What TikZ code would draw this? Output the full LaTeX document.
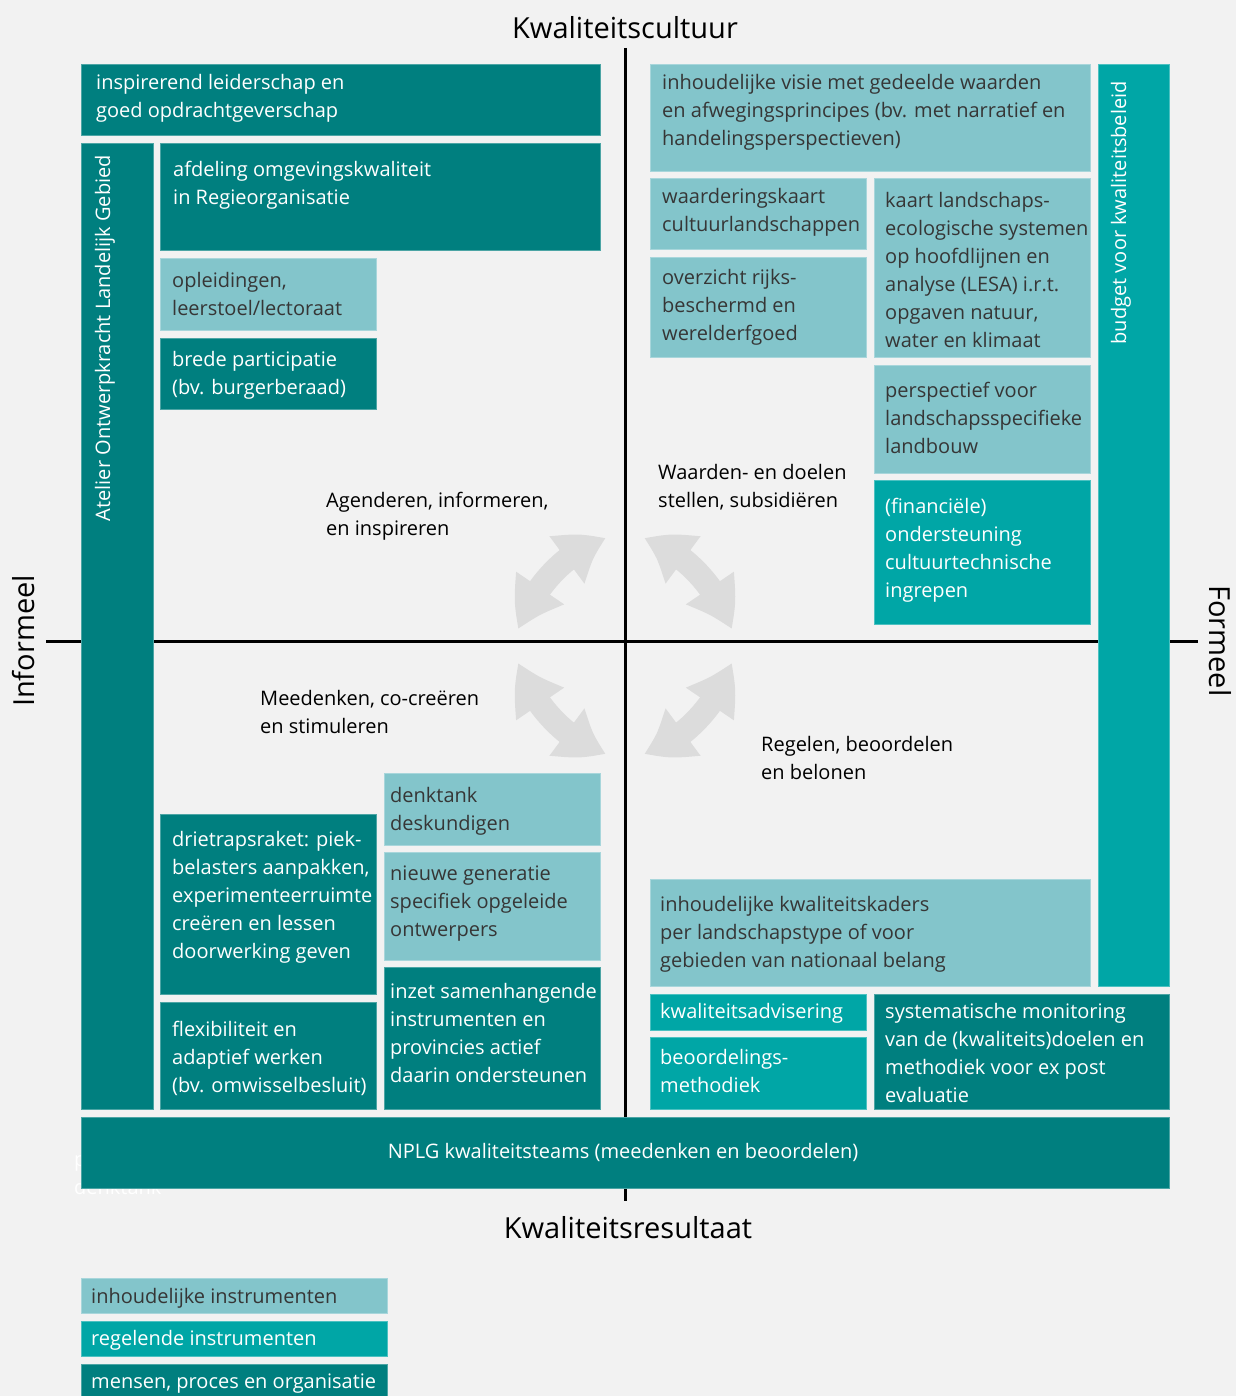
\documentclass[tikz,border=0pt]{standalone}
\usepackage{fontspec}
\setmainfont{Open Sans}
\usetikzlibrary{arrows.meta,bending}
\definecolor{bg}{HTML}{F2F2F2}
\definecolor{tdark}{HTML}{007F7F}
\definecolor{tmid}{HTML}{00A6A6}
\definecolor{tlight}{HTML}{83C5CB}
\definecolor{agray}{HTML}{DCDCDC}
\definecolor{dtext}{HTML}{363636}
\tikzset{
 box/.style={anchor=north west, inner sep=0pt, outer sep=0pt, line width=0.8pt},
 darkbox/.style={box, fill=tdark, draw=tdark!70!white},
 midbox/.style={box, fill=tmid, draw=tmid!70!white},
 lightbox/.style={box, fill=tlight, draw=tlight!70!white},
 txt/.style={anchor=north west, inner sep=0pt, align=left, font=\fontsize{20}{28}\selectfont},
 wtxt/.style={txt, text=white},
 ktxt/.style={txt, text=dtext},
 lbl/.style={txt, text=black},
 axisline/.style={line width=3pt, black},
 bigarrow/.style={line width=24pt, agray, {Triangle[width=56pt,length=44pt,bend]}-{Triangle[width=56pt,length=44pt,bend]}},
 ttl/.style={font=\fontsize{29}{34}\selectfont, text=black, inner sep=0pt},
}
\newcommand\bx[6]{\node[#2, minimum width=#5pt, minimum height=#6pt] (#1) at (#3,#4) {};}
% \bt{name}{style}{xshift}{yshift}{text}
\newcommand\bt[5]{\node[#2] (#1-t) at ([xshift=#3pt,yshift=-#4pt]#1.north west) {#5};}
\begin{document}
\begin{tikzpicture}[x=1pt,y=-1pt]
\useasboundingbox (0,0) rectangle (1236,1396);
\fill[bg] (0,0) rectangle (1236,1396);

% axes
\coordinate (vt) at (625,48);
\coordinate (vb) at (625,1201);
\coordinate (hl) at (46,641);
\coordinate (hr) at (1198,641);
\draw[axisline] (vt) -- (vb);
\draw[axisline] (hl) -- (hr);

\node[ttl] (top) at (625,28) {Kwaliteitscultuur};
\node[ttl] (bottom) at (628,1228) {Kwaliteitsresultaat};
\node[ttl, rotate=90] (left) at (24,641) {Informeel};
\node[ttl, rotate=-90] (right) at (1220,641) {Formeel};

% ghost text behind the bottom bar
\node[wtxt, anchor=north west] (ghost) at (74,1155) {p\\denktank};

% upper left
\bx{b1}{darkbox}{81}{64}{519}{71}
\bt{b1}{wtxt}{15}{10}{inspirerend leiderschap en\\goed opdrachtgeverschap}
\bx{atelier}{darkbox}{81}{143}{72}{966}
\node[wtxt, rotate=90, anchor=east, align=center] (atelier-t) at (105,155) {Atelier Ontwerpkracht Landelijk Gebied};
\bx{b3}{darkbox}{160}{143}{440}{107}
\bt{b3}{wtxt}{13}{18}{afdeling omgevingskwaliteit\\in Regieorganisatie}
\bx{b4}{lightbox}{160}{258}{216}{72}
\bt{b4}{ktxt}{12}{14}{opleidingen,\\leerstoel/lectoraat}
\bx{b5}{darkbox}{160}{338}{216}{71}
\bt{b5}{wtxt}{12}{13}{brede participatie\\(bv. burgerberaad)}

% upper right
\bx{b6}{lightbox}{650}{64}{440}{107}
\bt{b6}{ktxt}{12}{10}{inhoudelijke visie met gedeelde waarden\\en afwegingsprincipes (bv. met narratief en\\handelingsperspectieven)}
\bx{budget}{midbox}{1098}{64}{71}{922}
\node[wtxt, rotate=90, anchor=east, align=center] (budget-t) at (1121,81) {budget voor kwaliteitsbeleid};
\bx{b8}{lightbox}{650}{178}{216}{71}
\bt{b8}{ktxt}{12}{10}{waarderingskaart\\cultuurlandschappen}
\bx{b9}{lightbox}{874}{178}{216}{179}
\bt{b9}{ktxt}{11}{14}{kaart landschaps-\\ecologische systemen\\op hoofdlijnen en\\analyse (LESA) i.r.t.\\opgaven natuur,\\water en klimaat}
\bx{b10}{lightbox}{650}{257}{216}{100}
\bt{b10}{ktxt}{12}{12}{overzicht rijks-\\beschermd en\\werelderfgoed}
\bx{b11}{lightbox}{874}{365}{216}{108}
\bt{b11}{ktxt}{11}{17}{perspectief voor\\landschapsspecifieke\\landbouw}
\bx{b12}{midbox}{874}{480}{216}{144}
\bt{b12}{wtxt}{11}{18}{(financiële)\\ondersteuning\\cultuurtechnische\\ingrepen}

% lower left
\bx{b13}{lightbox}{384}{773}{216}{72}
\bt{b13}{ktxt}{6}{14}{denktank\\deskundigen}
\bx{b14}{darkbox}{160}{814}{216}{180}
\bt{b14}{wtxt}{12}{17}{drietrapsraket: piek-\\belasters aanpakken,\\experimenteerruimte\\creëren en lessen\\doorwerking geven}
\bx{b15}{lightbox}{384}{852}{216}{108}
\bt{b15}{ktxt}{6}{14}{nieuwe generatie\\specifiek opgeleide\\ontwerpers}
\bx{b16}{darkbox}{160}{1002}{216}{107}
\bt{b16}{wtxt}{12}{19}{flexibiliteit en\\adaptief werken\\(bv. omwisselbesluit)}
\bx{b17}{darkbox}{384}{967}{216}{142}
\bt{b17}{wtxt}{6}{16}{inzet samenhangende\\instrumenten en\\provincies actief\\daarin ondersteunen}

% lower right
\bx{b18}{lightbox}{650}{879}{440}{107}
\bt{b18}{ktxt}{10}{17}{inhoudelijke kwaliteitskaders\\per landschapstype of voor\\gebieden van nationaal belang}
\bx{b19}{midbox}{650}{994}{216}{36}
\bt{b19}{wtxt}{10}{9}{kwaliteitsadvisering}
\bx{b20}{darkbox}{874}{994}{295}{115}
\bt{b20}{wtxt}{11}{9}{systematische monitoring\\van de (kwaliteits)doelen en\\methodiek voor ex post\\evaluatie}
\bx{b21}{midbox}{650}{1037}{216}{72}
\bt{b21}{wtxt}{10}{12}{beoordelings-\\methodiek}

% bottom bar
\bx{nplg}{darkbox}{81}{1117}{1088}{71}
\node[wtxt, anchor=center, align=center] (nplg-t) at (623,1152) {NPLG kwaliteitsteams (meedenken en beoordelen)};

% quadrant labels
\node[lbl] (q1) at (326,492) {Agenderen, informeren,\\en inspireren};
\node[lbl] (q2) at (658,464) {Waarden- en doelen\\stellen, subsidiëren};
\node[lbl] (q3) at (260,690) {Meedenken, co-creëren\\en stimuleren};
\node[lbl] (q4) at (761,736) {Regelen, beoordelen\\en belonen};

% arrows
\coordinate (a1s) at (519,629); \coordinate (a1e) at (606,539);
\coordinate (a2s) at (731,629); \coordinate (a2e) at (644,539);
\coordinate (a3s) at (519,663); \coordinate (a3e) at (606,753);
\coordinate (a4s) at (731,663); \coordinate (a4e) at (644,753);
\draw[bigarrow] (a1s) .. controls (530,592) and (565,550) .. (a1e);
\draw[bigarrow] (a2s) .. controls (720,592) and (685,550) .. (a2e);
\draw[bigarrow] (a3s) .. controls (530,700) and (565,742) .. (a3e);
\draw[bigarrow] (a4s) .. controls (720,700) and (685,742) .. (a4e);

% legend
\bx{l1}{lightbox}{81}{1278}{306}{35}
\bt{l1}{ktxt}{10}{10}{inhoudelijke instrumenten}
\bx{l2}{midbox}{81}{1321}{306}{35}
\bt{l2}{wtxt}{10}{9}{regelende instrumenten}
\bx{l3}{darkbox}{81}{1364}{306}{40}
\bt{l3}{wtxt}{10}{10}{mensen, proces en organisatie}
\end{tikzpicture}
\end{document}
